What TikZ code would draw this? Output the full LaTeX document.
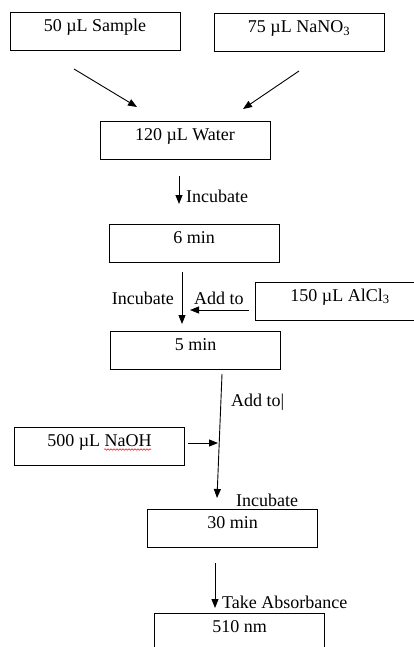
\documentclass[tikz,border=0pt]{standalone}
\usepackage{fontspec}
\setmainfont{Liberation Serif}
\usetikzlibrary{arrows.meta,decorations.pathmorphing}
\begin{document}
\begin{tikzpicture}[x=1pt,y=-1pt,
  every node/.style={font=\fontsize{18}{20}\selectfont},
  box/.style={draw, line width=1pt, minimum width=170pt, minimum height=38pt, inner sep=0pt, text height=12pt, text depth=12pt},
  conn/.style={line width=0.9pt, -{Triangle[length=9pt,width=7pt]}},
  lbl/.style={anchor=base west, inner sep=0pt},
  lble/.style={anchor=base east, inner sep=0pt}]
\useasboundingbox (0,0) rectangle (414,647);
% boxes
\node[box] (S)   at (95,32)    {50 µL Sample};
\node[box] (N)   at (299,33)   {75 µL NaNO\textsubscript{3}};
\node[box] (W)   at (185,141)  {120 µL Water};
\node[box] (M6)  at (194,243)  {6 min};
\node[box] (A)   at (340,301)  {150 µL AlCl\textsubscript{3}};
\node[box] (M5)  at (195.5,350.5) {5 min};
\node[box] (H)   at (99.5,446) {500 µL NaOH};
\node[box] (M30) at (232.5,528) {30 min};
\node[box] (F)   at (239.5,632) {510 nm};
% spelling underline
\draw[red, line width=0.5pt, decorate, decoration={snake, amplitude=0.8pt, segment length=3pt}] (104,449.5) -- (151,449.5);
% connector end points
\coordinate (s1) at (74,69);   \coordinate (e1) at (137,107);
\coordinate (s2) at (299,71);  \coordinate (e2) at (243,109);
\coordinate (s3) at (179,176); \coordinate (e3) at (179,204);
\coordinate (s4) at (182,272); \coordinate (e4) at (182,324);
\coordinate (s5) at (249,310); \coordinate (e5) at (190,310);
\coordinate (s6) at (222,374); \coordinate (e6) at (217,498);
\coordinate (s7) at (188,443); \coordinate (e7) at (218,443);
\coordinate (s8) at (215,563); \coordinate (e8) at (215,608);
% connectors
\draw[conn] (s1) -- (e1);
\draw[conn] (s2) -- (e2);
\draw[conn] (s3) -- (e3);
\draw[conn] (s4) -- (e4);
\draw[conn] (s5) -- (e5);
\draw[conn] (s6) -- (e6);
\draw[conn] (s7) -- (e7);
\draw[conn] (s8) -- (e8);
% labels
\node[lbl]  (l1) at (186,202) {Incubate};
\node[lble] (l2) at (174,304) {Incubate};
\node[lbl]  (l3) at (194,304) {Add to};
\node[lbl]  (l4) at (231,406) {Add to|};
\node[lbl]  (l5) at (236,506) {Incubate};
\node[lbl]  (l6) at (222,608) {Take Absorbance};
\end{tikzpicture}
\end{document}
